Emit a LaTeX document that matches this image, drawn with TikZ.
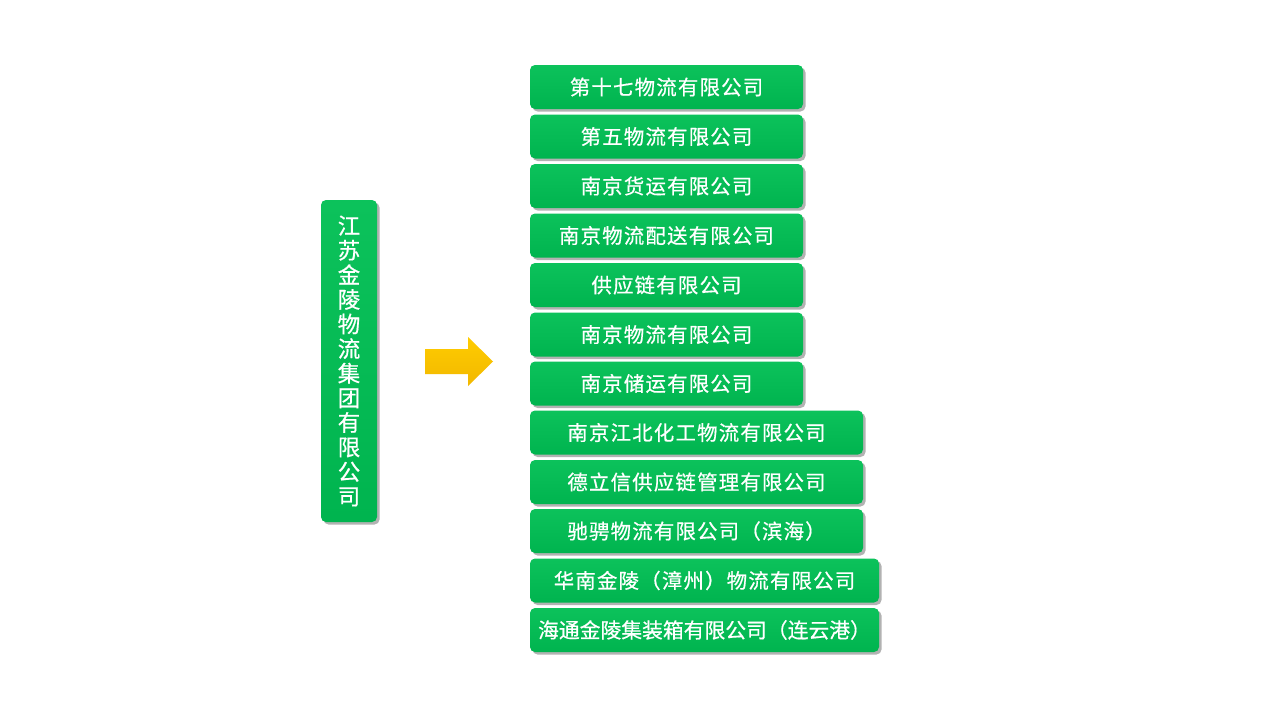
\documentclass[tikz,border=0pt]{standalone}
\usepackage{fontspec}
\newfontfamily\cjk[LetterSpace=6,FakeBold=0.6]{Noto Sans CJK SC}
\newfontfamily\cjkv[FakeBold=0.6]{Noto Sans CJK SC}
\usetikzlibrary{shadows}
\definecolor{gtop}{HTML}{0CC25B}
\definecolor{gbot}{HTML}{00B44F}
\definecolor{ytop}{HTML}{FFCC00}
\definecolor{ybot}{HTML}{F2B800}
\tikzset{
  gbox/.style={rounded corners=5pt, top color=gtop, bottom color=gbot, draw=none,
    drop shadow={shadow xshift=2.5pt, shadow yshift=-2.5pt, fill=black, opacity=0.3},
    minimum height=44pt, inner sep=0pt, text=white, font=\cjk\fontsize{20.4}{22}\selectfont},
}
\begin{document}
\begin{tikzpicture}[x=1pt,y=-1pt]
\useasboundingbox (0,0) rectangle (1280,720);
\fill[white] (0,0) rectangle (1280,720);
% left box
\node[gbox, minimum width=56pt, minimum height=322pt, align=center,
  font=\cjkv\fontsize{22.5}{24.6}\selectfont] (group) at (349,361)
  {江\\苏\\金\\陵\\物\\流\\集\\团\\有\\限\\公\\司};
% arrow
\path[top color=ytop, bottom color=ybot] (425,349) -- (468,349) -- (468,337) -- (493,361.5) -- (468,386) -- (468,374) -- (425,374) -- cycle;
% right boxes
\node[gbox, minimum width=273pt] (b1) at (666.5,87) {第十七物流有限公司};
\node[gbox, minimum width=273pt] (b2) at (666.5,136.5) {第五物流有限公司};
\node[gbox, minimum width=273pt] (b3) at (666.5,186) {南京货运有限公司};
\node[gbox, minimum width=273pt] (b4) at (666.5,235.5) {南京物流配送有限公司};
\node[gbox, minimum width=273pt] (b5) at (666.5,285) {供应链有限公司};
\node[gbox, minimum width=273pt] (b6) at (666.5,334.5) {南京物流有限公司};
\node[gbox, minimum width=273pt] (b7) at (666.5,383.5) {南京储运有限公司};
\node[gbox, minimum width=333pt] (b8) at (696.5,432.5) {南京江北化工物流有限公司};
\node[gbox, minimum width=333pt] (b9) at (696.5,482) {德立信供应链管理有限公司};
\node[gbox, minimum width=333pt] (b10) at (696.5,531) {驰骋物流有限公司（滨海）};
\node[gbox, minimum width=349pt] (b11) at (704.5,580.5) {华南金陵（漳州）物流有限公司};
\node[gbox, minimum width=349pt, font=\cjkv\fontsize{20.8}{22}\selectfont] (b12) at (704.5,630) {海通金陵集装箱有限公司（连云港）};
\end{tikzpicture}
\end{document}
